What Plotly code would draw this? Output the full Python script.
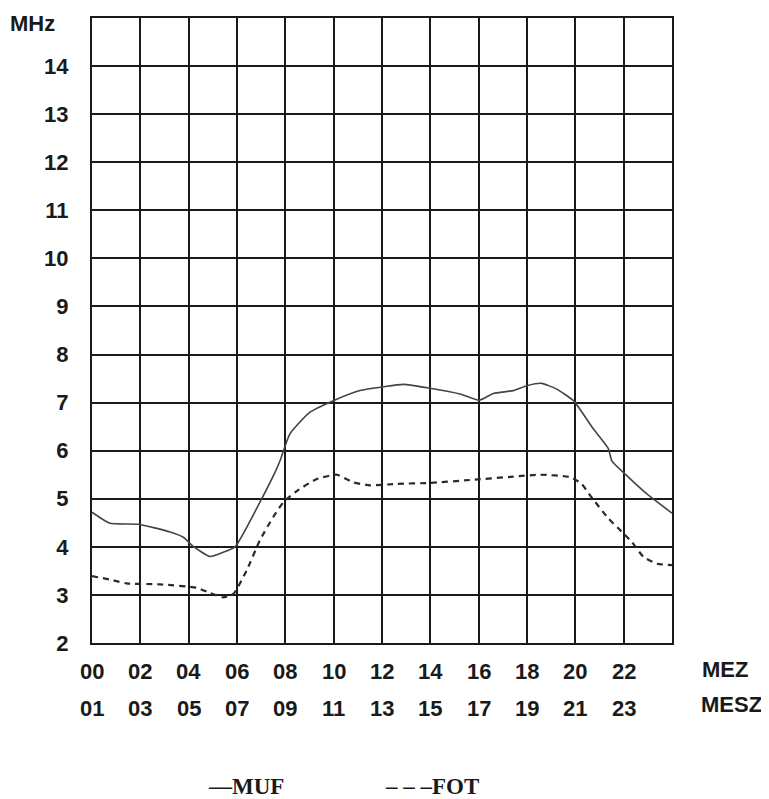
import plotly.graph_objects as go

# MUF curve (hour, MHz)
muf_hours = [0, 0.74, 1.92, 3.23, 3.78, 4.19, 4.88, 5.43, 5.92, 6.95, 7.61, 7.78, 8.19, 9.02, 9.99,
             11.09, 12.06, 12.88, 13.99, 15.23, 16.03, 16.61, 17.44, 17.99, 18.61, 19.23, 19.92,
             20.75, 21.37, 21.51, 22.13, 22.96, 24.0]
muf_values = [4.72, 4.49, 4.47, 4.31, 4.20, 4.01, 3.80, 3.89, 4.00, 4.93, 5.59, 5.79, 6.35, 6.80, 7.04,
              7.25, 7.33, 7.38, 7.30, 7.18, 7.05, 7.19, 7.25, 7.35, 7.40, 7.28, 7.04,
              6.45, 6.04, 5.79, 5.48, 5.10, 4.70]

# FOT curve (hour, MHz)
fot_hours = [0, 0.74, 1.43, 2.81, 4.33, 4.88, 5.43, 5.85, 6.40, 6.95, 7.50, 7.92, 8.47, 9.30, 10.13,
             10.82, 11.50, 12.61, 13.99, 15.64, 17.43, 18.54, 19.78, 20.26, 20.61, 21.37, 21.79,
             22.34, 22.82, 23.37, 24.0]
fot_values = [3.39, 3.32, 3.24, 3.22, 3.15, 3.04, 2.95, 3.02, 3.51, 4.14, 4.62, 4.93, 5.16, 5.41, 5.50,
              5.34, 5.28, 5.31, 5.33, 5.39, 5.46, 5.50, 5.45, 5.31, 5.07, 4.59, 4.38,
              4.10, 3.79, 3.65, 3.62]

y_ticks = list(range(2, 15))
mez_labels = ["00", "02", "04", "06", "08", "10", "12", "14", "16", "18", "20", "22"]
mesz_labels = ["01", "03", "05", "07", "09", "11", "13", "15", "17", "19", "21", "23"]
tick_hours = list(range(0, 24, 2))

fig = go.Figure()
fig.add_trace(go.Scatter(x=muf_hours, y=muf_values, mode="lines",
                         line=dict(color="#444444", width=1.6, shape="spline", smoothing=0.5),
                         name="MUF", showlegend=False))
fig.add_trace(go.Scatter(x=fot_hours, y=fot_values, mode="lines",
                         line=dict(color="#2a2a2a", width=2.2, dash="6px,5px", shape="spline", smoothing=0.5),
                         name="FOT", showlegend=False))

bold = dict(family="Liberation Sans, Arial", size=22, color="#1a1a1a")

annotations = []
for h, lab in zip(tick_hours, mez_labels):
    annotations.append(dict(x=h, y=-0.046, xref="x", yref="paper", text=f"<b>{lab}</b>",
                            showarrow=False, font=bold, xanchor="center", yanchor="middle"))
for h, lab in zip(tick_hours, mesz_labels):
    annotations.append(dict(x=h, y=-0.104, xref="x", yref="paper", text=f"<b>{lab}</b>",
                            showarrow=False, font=bold, xanchor="center", yanchor="middle"))
annotations.append(dict(x=1.091, y=-0.043, xref="paper", yref="paper", text="<b>MEZ</b>",
                        showarrow=False, font=bold, xanchor="center", yanchor="middle"))
annotations.append(dict(x=1.102, y=-0.098, xref="paper", yref="paper", text="<b>MESZ</b>",
                        showarrow=False, font=bold, xanchor="center", yanchor="middle"))
annotations.append(dict(x=-0.1034, y=0.992, xref="paper", yref="paper", text="<b>MHz</b>",
                        showarrow=False, font=bold, xanchor="center", yanchor="middle"))

serif = dict(family="Liberation Serif, Times New Roman", size=23, color="#1a1a1a")
annotations.append(dict(x=0.266, y=-0.229, xref="paper", yref="paper", text="<b>—MUF</b>",
                        showarrow=False, font=serif, xanchor="center", yanchor="middle"))
annotations.append(dict(x=0.586, y=-0.229, xref="paper", yref="paper", text="<b>– – –FOT</b>",
                        showarrow=False, font=serif, xanchor="center", yanchor="middle"))

fig.update_layout(
    width=761, height=791,
    margin=dict(l=84, r=97, t=8, b=156),
    paper_bgcolor="white", plot_bgcolor="white",
    annotations=annotations,
    xaxis=dict(range=[0, 24], dtick=2, tick0=0, showgrid=True, gridcolor="#1a1a1a", gridwidth=2,
               showline=True, linecolor="#1a1a1a", linewidth=2, mirror=True,
               showticklabels=False, ticks="", zeroline=False),
    yaxis=dict(range=[2, 15], tickvals=y_ticks, ticktext=[f"<b>{v}</b>" for v in y_ticks],
               showgrid=True, gridcolor="#1a1a1a", gridwidth=2,
               showline=True, linecolor="#1a1a1a", linewidth=2, mirror=True,
               tickfont=bold, ticks="", ticklen=0, zeroline=False, automargin=False,
               ticklabelstandoff=17),
)

fig.write_html("out.html")
